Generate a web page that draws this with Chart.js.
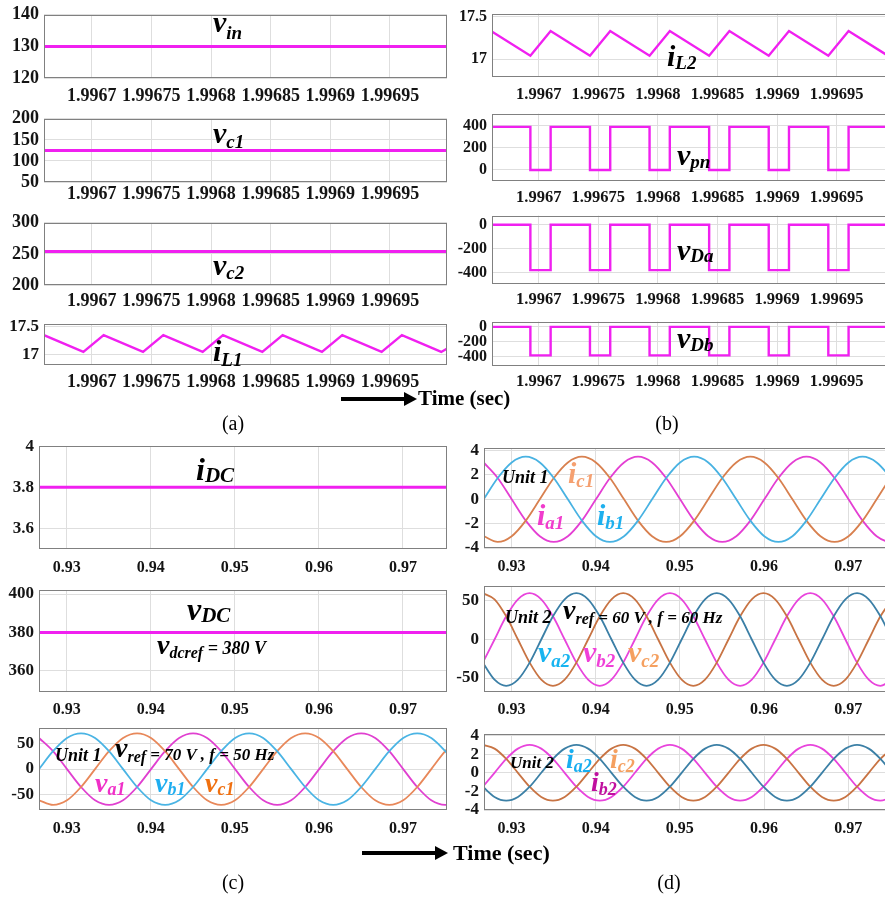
<!DOCTYPE html>
<html>
<head>
<meta charset="utf-8">
<title>Converter waveforms</title>
<script src="https://cdn.jsdelivr.net/npm/chart.js@4.4.1/dist/chart.umd.min.js"></script>
<style>
  html, body { margin: 0; padding: 0; background: #fff; overflow: hidden; }
  #page { position: relative; width: 885px; height: 898px; overflow: hidden; background: #fff; }
  #page canvas { position: absolute; }
  #page svg { position: absolute; left: 0; top: 0; }
</style>
</head>
<body>
<div id="page"></div>
<script>
// ---------- tick labels ----------
const tTicksAB = [1.9967, 1.99675, 1.9968, 1.99685, 1.9969, 1.99695];
const tLabelsAB = ['1.9967', '1.99675', '1.9968', '1.99685', '1.9969', '1.99695'];
const tTicksCD = [0.93, 0.94, 0.95, 0.96, 0.97];
const tLabelsCD = ['0.93', '0.94', '0.95', '0.96', '0.97'];

// ---------- (a) / (b) : DC side ----------
const tFlat = [1.99666, 1.997];
const vin = [130, 130];
const vcap1 = [125, 125];
const vcap2 = [254, 254];

const tRipple = [1.99666, 1.996693, 1.99671, 1.996743, 1.99676, 1.996793, 1.99681, 1.996843,
  1.99686, 1.996893, 1.99691, 1.996943, 1.99696, 1.996993, 1.997];
const iL1 = [17.35, 17.04, 17.35, 17.04, 17.35, 17.04, 17.35, 17.04, 17.35, 17.04, 17.35, 17.04, 17.35, 17.04, 17.13];
const iL2 = [17.33, 17.04, 17.33, 17.04, 17.33, 17.04, 17.33, 17.04, 17.33, 17.04, 17.33, 17.04, 17.33, 17.04, 17.12];

const tSwitch = [1.99666, 1.99666, 1.996693, 1.996693, 1.99671, 1.99671, 1.996743, 1.996743,
  1.99676, 1.99676, 1.996793, 1.996793, 1.99681, 1.99681, 1.996843, 1.996843,
  1.99686, 1.99686, 1.996893, 1.996893, 1.99691, 1.99691, 1.996943, 1.996943,
  1.99696, 1.99696, 1.996993, 1.996993];
const vpn = [390, 390, 390, 0, 0, 390, 390, 0, 0, 390, 390, 0, 0, 390, 390, 0,
  0, 390, 390, 0, 0, 390, 390, 0, 0, 390, 390, 0];
const vDa = [-380, 0, 0, -380, -380, 0, 0, -380, -380, 0, 0, -380, -380, 0, 0, -380,
  -380, 0, 0, -380, -380, 0, 0, -380, -380, 0, 0, -380];
const vDb = [0, 0, 0, -385, -385, 0, 0, -385, -385, 0, 0, -385, -385, 0, 0, -385,
  -385, 0, 0, -385, -385, 0, 0, -385, -385, 0, 0, -385];

// ---------- (c) / (d) : AC side ----------
const tDC = [0.9267, 0.9752];
const iDC = [3.8, 3.8];
const vDC = [380, 380];

const t50 = [0.9267, 0.92837, 0.93003, 0.9317, 0.93337, 0.93503, 0.9367, 0.93837, 0.94003, 0.9417,
  0.94337, 0.94503, 0.9467, 0.94837, 0.95003, 0.9517, 0.95337, 0.95503, 0.9567, 0.95837,
  0.96003, 0.9617, 0.96337, 0.96503, 0.9667, 0.96837, 0.97003, 0.9717, 0.97337, 0.97503, 0.9767];
const va1 = [61, 35, 0, -35, -61, -70, -61, -35, 0, 35, 61, 70, 61, 35, 0, -35, -61, -70, -61, -35,
  0, 35, 61, 70, 61, 35, 0, -35, -61, -70, -61];
const vb1 = [0, 35, 61, 70, 61, 35, 0, -35, -61, -70, -61, -35, 0, 35, 61, 70, 61, 35, 0, -35,
  -61, -70, -61, -35, 0, 35, 61, 70, 61, 35, 0];
const vc1 = [-61, -70, -61, -35, 0, 35, 61, 70, 61, 35, 0, -35, -61, -70, -61, -35, 0, 35, 61, 70,
  61, 35, 0, -35, -61, -70, -61, -35, 0, 35, 61];
const ia1 = [3.03, 1.75, 0, -1.75, -3.03, -3.5, -3.03, -1.75, 0, 1.75, 3.03, 3.5, 3.03, 1.75, 0, -1.75,
  -3.03, -3.5, -3.03, -1.75, 0, 1.75, 3.03, 3.5, 3.03, 1.75, 0, -1.75, -3.03, -3.5, -3.03];
const ib1 = [0, 1.75, 3.03, 3.5, 3.03, 1.75, 0, -1.75, -3.03, -3.5, -3.03, -1.75, 0, 1.75, 3.03, 3.5,
  3.03, 1.75, 0, -1.75, -3.03, -3.5, -3.03, -1.75, 0, 1.75, 3.03, 3.5, 3.03, 1.75, 0];
const ic1 = [-3.03, -3.5, -3.03, -1.75, 0, 1.75, 3.03, 3.5, 3.03, 1.75, 0, -1.75, -3.03, -3.5, -3.03, -1.75,
  0, 1.75, 3.03, 3.5, 3.03, 1.75, 0, -1.75, -3.03, -3.5, -3.03, -1.75, 0, 1.75, 3.03];

const t60 = [0.9266, 0.92799, 0.92938, 0.93077, 0.93216, 0.93354, 0.93493, 0.93632, 0.93771, 0.9391,
  0.94049, 0.94188, 0.94327, 0.94466, 0.94604, 0.94743, 0.94882, 0.95021, 0.9516, 0.95299,
  0.95438, 0.95577, 0.95716, 0.95854, 0.95993, 0.96132, 0.96271, 0.9641, 0.96549, 0.96688,
  0.96827, 0.96966, 0.97104, 0.97243, 0.97382, 0.97521];
const va2 = [-30, -52, -60, -52, -30, 0, 30, 52, 60, 52, 30, 0, -30, -52, -60, -52, -30, 0, 30, 52, 60, 52, 30, 0,
  -30, -52, -60, -52, -30, 0, 30, 52, 60, 52, 30, 0];
const vb2 = [-30, 0, 30, 52, 60, 52, 30, 0, -30, -52, -60, -52, -30, 0, 30, 52, 60, 52, 30, 0, -30, -52, -60, -52,
  -30, 0, 30, 52, 60, 52, 30, 0, -30, -52, -60, -52];
const vc2 = [60, 52, 30, 0, -30, -52, -60, -52, -30, 0, 30, 52, 60, 52, 30, 0, -30, -52, -60, -52, -30, 0, 30, 52,
  60, 52, 30, 0, -30, -52, -60, -52, -30, 0, 30, 52];
const ia2 = [-1.5, -2.6, -3, -2.6, -1.5, 0, 1.5, 2.6, 3, 2.6, 1.5, 0, -1.5, -2.6, -3, -2.6, -1.5, 0, 1.5, 2.6, 3, 2.6, 1.5, 0,
  -1.5, -2.6, -3, -2.6, -1.5, 0, 1.5, 2.6, 3, 2.6, 1.5, 0];
const ib2 = [-1.5, 0, 1.5, 2.6, 3, 2.6, 1.5, 0, -1.5, -2.6, -3, -2.6, -1.5, 0, 1.5, 2.6, 3, 2.6, 1.5, 0, -1.5, -2.6, -3, -2.6,
  -1.5, 0, 1.5, 2.6, 3, 2.6, 1.5, 0, -1.5, -2.6, -3, -2.6];
const ic2 = [3, 2.6, 1.5, 0, -1.5, -2.6, -3, -2.6, -1.5, 0, 1.5, 2.6, 3, 2.6, 1.5, 0, -1.5, -2.6, -3, -2.6, -1.5, 0, 1.5, 2.6,
  3, 2.6, 1.5, 0, -1.5, -2.6, -3, -2.6, -1.5, 0, 1.5, 2.6];

// ---------- drawing ----------
const page = document.getElementById('page');
const serif = "'Liberation Serif', 'Times New Roman', serif";
const gridCol = '#dedede';
const tickCol = '#141414';
const MAG = '#f020f0';

const boxPlugin = {
  id: 'box',
  afterDraw(chart) {
    const a = chart.chartArea, ctx = chart.ctx;
    ctx.save();
    ctx.strokeStyle = '#808080';
    ctx.lineWidth = 1;
    ctx.strokeRect(Math.round(a.left) + 0.5, Math.round(a.top) + 0.5,
      Math.round(a.right - a.left) - 1, Math.round(a.bottom - a.top) - 1);
    ctx.restore();
  }
};

function makePlot(p) {
  const [l, t, r, b] = p.box;
  const top = t - 14, xH = 36;
  const w = r - p.cl + 6, h = b - top + xH;
  const cv = document.createElement('canvas');
  cv.width = w; cv.height = h;
  cv.style.left = p.cl + 'px'; cv.style.top = top + 'px';
  cv.style.width = w + 'px'; cv.style.height = h + 'px';
  page.appendChild(cv);
  const font = size => ({ family: serif, weight: 'bold', size: size });

  new Chart(cv.getContext('2d'), {
    type: 'line',
    data: {
      datasets: p.series.map(s => ({
        data: s.x.map((x, i) => ({ x: x, y: s.y[i] })),
        borderColor: s.color,
        borderWidth: s.width,
        pointRadius: 0,
        fill: false,
        tension: 0,
        cubicInterpolationMode: s.smooth ? 'monotone' : 'default'
      }))
    },
    options: {
      responsive: false,
      animation: false,
      devicePixelRatio: 1,
      events: [],
      layout: { padding: { top: 14, right: 6, left: 0, bottom: 0 } },
      plugins: { legend: { display: false }, tooltip: { enabled: false } },
      scales: {
        x: {
          type: 'linear', min: p.xr[0], max: p.xr[1],
          afterBuildTicks: s => { s.ticks = p.xt.map(v => ({ value: v })); },
          afterFit: s => { s.height = xH; },
          grid: { color: gridCol, drawTicks: false },
          border: { display: false },
          ticks: { autoSkip: false, maxRotation: 0, padding: p.xPad, color: tickCol,
            font: font(p.xf), callback: (v, i) => p.xl[i] }
        },
        y: {
          type: 'linear', min: p.yr[0], max: p.yr[1],
          afterBuildTicks: s => { s.ticks = p.yt.map(v => ({ value: v })); },
          afterFit: s => { s.width = l - p.cl; },
          grid: { color: gridCol, drawTicks: false },
          border: { display: false },
          ticks: { autoSkip: false, padding: 5, color: tickCol, font: font(p.yf), callback: v => String(v) }
        }
      }
    },
    plugins: [boxPlugin]
  });
}

const xA = [1.99666, 1.9969978], xB = [1.9966608, 1.9969914];
const xC = [0.9267, 0.97524], xD = [0.92674, 0.97448];

// (a)
makePlot({ cl: 0, box: [44, 13, 447, 78], xr: xA, xt: tTicksAB, xl: tLabelsAB, xf: 18, xPad: 8,
  yr: [120, 140], yt: [120, 130, 140], yf: 18, series: [{ x: tFlat, y: vin, color: MAG, width: 3 }] });
makePlot({ cl: 0, box: [44, 117, 447, 182], xr: xA, xt: tTicksAB, xl: tLabelsAB, xf: 18, xPad: 2,
  yr: [50, 200], yt: [50, 100, 150, 200], yf: 18, series: [{ x: tFlat, y: vcap1, color: MAG, width: 3 }] });
makePlot({ cl: 0, box: [44, 221, 447, 285], xr: xA, xt: tTicksAB, xl: tLabelsAB, xf: 18, xPad: 6,
  yr: [200, 300], yt: [200, 250, 300], yf: 18, series: [{ x: tFlat, y: vcap2, color: MAG, width: 3 }] });
makePlot({ cl: 0, box: [44, 323, 447, 365], xr: xA, xt: tTicksAB, xl: tLabelsAB, xf: 18, xPad: 7,
  yr: [16.8, 17.55], yt: [17, 17.5], yf: 17, series: [{ x: tRipple, y: iL1, color: MAG, width: 2.4 }] });

// (b)
makePlot({ cl: 450, box: [492, 13, 886, 77], xr: xB, xt: tTicksAB, xl: tLabelsAB, xf: 16.5, xPad: 8,
  yr: [16.79, 17.535], yt: [17, 17.5], yf: 16, series: [{ x: tRipple, y: iL2, color: MAG, width: 2.4 }] });
makePlot({ cl: 450, box: [492, 113, 886, 181], xr: xB, xt: tTicksAB, xl: tLabelsAB, xf: 16.5, xPad: 7,
  yr: [-100, 510], yt: [0, 200, 400], yf: 16, series: [{ x: tSwitch, y: vpn, color: MAG, width: 2.4 }] });
makePlot({ cl: 450, box: [492, 215, 886, 284], xr: xB, xt: tTicksAB, xl: tLabelsAB, xf: 16.5, xPad: 6,
  yr: [-496, 77], yt: [-400, -200, 0], yf: 16, series: [{ x: tSwitch, y: vDa, color: MAG, width: 2.4 }] });
makePlot({ cl: 450, box: [492, 321, 886, 366], xr: xB, xt: tTicksAB, xl: tLabelsAB, xf: 16.5, xPad: 6,
  yr: [-529, 71], yt: [-400, -200, 0], yf: 16, series: [{ x: tSwitch, y: vDb, color: MAG, width: 2.4 }] });

// (c)
makePlot({ cl: 0, box: [39, 445, 447, 549], xr: xC, xt: tTicksCD, xl: tLabelsCD, xf: 16, xPad: 9,
  yr: [3.5, 4], yt: [3.6, 3.8, 4], yf: 17, series: [{ x: tDC, y: iDC, color: MAG, width: 3 }] });
makePlot({ cl: 0, box: [39, 589, 447, 692], xr: xC, xt: tTicksCD, xl: tLabelsCD, xf: 16, xPad: 8,
  yr: [349, 402], yt: [360, 380, 400], yf: 17, series: [{ x: tDC, y: vDC, color: MAG, width: 3 }] });
makePlot({ cl: 0, box: [39, 727, 447, 810], xr: xC, xt: tTicksCD, xl: tLabelsCD, xf: 16, xPad: 9,
  yr: [-80, 80], yt: [-50, 0, 50], yf: 17, series: [
    { x: t50, y: vb1, color: '#4ab4e4', width: 1.8, smooth: true },
    { x: t50, y: vc1, color: '#e8885a', width: 1.8, smooth: true },
    { x: t50, y: va1, color: '#e040d0', width: 1.8, smooth: true }] });

// (d)
makePlot({ cl: 450, box: [484, 447, 886, 548], xr: xD, xt: tTicksCD, xl: tLabelsCD, xf: 16, xPad: 9,
  yr: [-4, 4.2], yt: [-4, -2, 0, 2, 4], yf: 17, series: [
    { x: t50, y: ib1, color: '#48b2e2', width: 1.8, smooth: true },
    { x: t50, y: ic1, color: '#d8804f', width: 1.8, smooth: true },
    { x: t50, y: ia1, color: '#e43fd3', width: 1.8, smooth: true }] });
makePlot({ cl: 450, box: [484, 585, 886, 692], xr: xD, xt: tTicksCD, xl: tLabelsCD, xf: 16, xPad: 8,
  yr: [-68, 69], yt: [-50, 0, 50], yf: 17, series: [
    { x: t60, y: va2, color: '#3b7fa6', width: 1.8, smooth: true },
    { x: t60, y: vc2, color: '#c87444', width: 1.8, smooth: true },
    { x: t60, y: vb2, color: '#e844dc', width: 1.8, smooth: true }] });
makePlot({ cl: 450, box: [484, 733, 886, 810], xr: xD, xt: tTicksCD, xl: tLabelsCD, xf: 16, xPad: 9,
  yr: [-4, 4.15], yt: [-4, -2, 0, 2, 4], yf: 17, series: [
    { x: t60, y: ia2, color: '#3c80a6', width: 1.8, smooth: true },
    { x: t60, y: ic2, color: '#c87444', width: 1.8, smooth: true },
    { x: t60, y: ib2, color: '#e844dc', width: 1.8, smooth: true }] });

// ---------- text labels and arrows ----------
const ns = 'http://www.w3.org/2000/svg';
const svg = document.createElementNS(ns, 'svg');
svg.setAttribute('width', 885);
svg.setAttribute('height', 898);
page.appendChild(svg);

// [x, baseline, colour, parts [text, size, extra drop], style]
const BI = 'bi', B = 'b', R = 'r';
const labels = [
  [213, 32, '#000', [['v', 30, 0], ['in', 19, 7]], BI],
  [213, 143, '#000', [['v', 30, 0], ['c1', 19, 5]], BI],
  [213, 275, '#000', [['v', 30, 0], ['c2', 19, 4]], BI],
  [213, 361, '#000', [['i', 30, 0], ['L1', 19, 5]], BI],
  [667, 66, '#000', [['i', 30, 0], ['L2', 19, 3]], BI],
  [677, 165, '#000', [['v', 30, 0], ['pn', 19, 3]], BI],
  [677, 260, '#000', [['v', 30, 0], ['Da', 19, 2]], BI],
  [677, 348, '#000', [['v', 30, 0], ['Db', 19, 3]], BI],
  [196, 480, '#000', [['i', 32, 0], ['DC', 21, 2]], BI],
  [187, 620, '#000', [['v', 32, 0], ['DC', 21, 2]], BI],
  [157, 654, '#000', [['v', 28, 0], ['dcref', 16, 4], [' = 380 V', 18, 0]], BI],
  [55, 761, '#000', [['Unit 1', 18, 0]], BI],
  [115, 757, '#000', [['v', 28, 0], ['ref', 16, 5], [' = 70 V , f = 50 Hz', 17, 3]], BI],
  [95, 792, '#f030c8', [['v', 28, 0], ['a1', 18, 3]], BI],
  [155, 792, '#20aef0', [['v', 28, 0], ['b1', 18, 3]], BI],
  [205, 792, '#f07010', [['v', 28, 0], ['c1', 18, 3]], BI],
  [502, 483, '#000', [['Unit 1', 18, 0]], BI],
  [568, 483, '#f5a070', [['i', 30, 0], ['c1', 19, 4]], BI],
  [537, 525, '#f03ccc', [['i', 30, 0], ['a1', 19, 4]], BI],
  [597, 525, '#1eb0ee', [['i', 30, 0], ['b1', 19, 4]], BI],
  [505, 623, '#000', [['Unit 2', 18, 0]], BI],
  [563, 619, '#000', [['v', 28, 0], ['ref', 16, 5], [' = 60 V , f = 60 Hz', 17, 4]], BI],
  [538, 662, '#18b4f0', [['v', 30, 0], ['a2', 19, 5]], BI],
  [583, 662, '#f040d8', [['v', 30, 0], ['b2', 19, 5]], BI],
  [628, 662, '#f5a060', [['v', 30, 0], ['c2', 19, 5]], BI],
  [510, 768, '#000', [['Unit 2', 17, 0]], BI],
  [566, 768, '#18aef0', [['i', 28, 0], ['a2', 18, 4]], BI],
  [610, 768, '#f5a060', [['i', 28, 0], ['c2', 18, 4]], BI],
  [591, 791, '#c0109f', [['i', 28, 0], ['b2', 18, 4]], BI],
  [418, 405, '#000', [['Time (sec)', 21, 0]], B],
  [453, 860, '#000', [['Time (sec)', 22, 0]], B]
];
const captions = [['(a)', 233, 430], ['(b)', 667, 430], ['(c)', 233, 889], ['(d)', 669, 889]];

function addText(x, y, color, parts, style, anchor) {
  const el = document.createElementNS(ns, 'text');
  el.setAttribute('x', x);
  el.setAttribute('y', y);
  el.setAttribute('fill', color);
  el.setAttribute('font-family', serif);
  el.setAttribute('font-weight', style === R ? 'normal' : 'bold');
  el.setAttribute('font-style', style === BI ? 'italic' : 'normal');
  el.setAttribute('style', 'white-space:pre');
  if (anchor) el.setAttribute('text-anchor', anchor);
  parts.forEach(pt => {
    const s = document.createElementNS(ns, 'tspan');
    s.textContent = pt[0];
    s.setAttribute('font-size', pt[1]);
    s.setAttribute('y', y + pt[2]);
    el.appendChild(s);
  });
  svg.appendChild(el);
}

labels.forEach(lb => addText(lb[0], lb[1], lb[2], lb[3], lb[4]));
captions.forEach(c => addText(c[1], c[2], '#000', [[c[0], 20, 0]], R, 'middle'));

function addArrow(x1, x2, y) {
  const ln = document.createElementNS(ns, 'line');
  ln.setAttribute('x1', x1); ln.setAttribute('x2', x2 - 10);
  ln.setAttribute('y1', y); ln.setAttribute('y2', y);
  ln.setAttribute('stroke', '#000'); ln.setAttribute('stroke-width', 4);
  svg.appendChild(ln);
  const hd = document.createElementNS(ns, 'polygon');
  hd.setAttribute('points', `${x2 - 13},${y - 7} ${x2},${y} ${x2 - 13},${y + 7}`);
  hd.setAttribute('fill', '#000');
  svg.appendChild(hd);
}
addArrow(341, 417, 399);
addArrow(362, 448, 853);
</script>
</body>
</html>
